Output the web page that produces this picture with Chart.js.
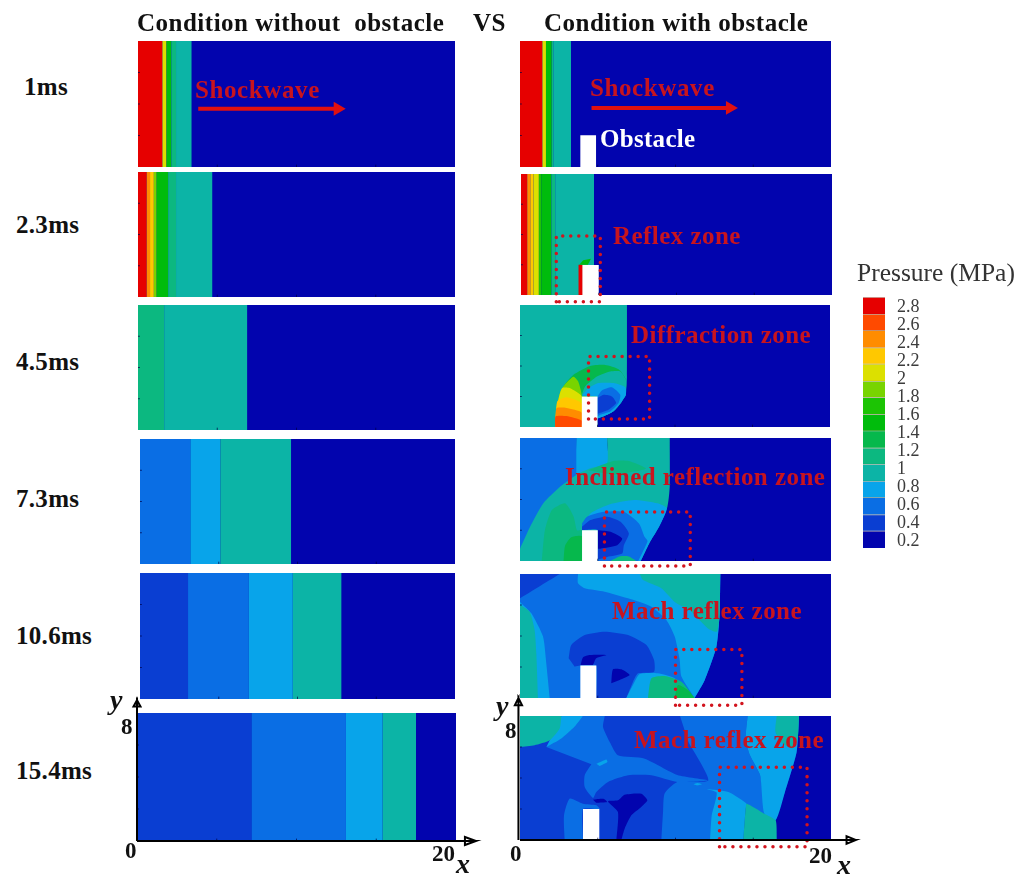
<!DOCTYPE html>
<html>
<head>
<meta charset="utf-8">
<title>Pressure contours</title>
<script src="https://cdn.jsdelivr.net/npm/chart.js@4"></script>
<style>
  html, body { margin: 0; padding: 0; background: #fff; }
  #page { position: relative; width: 1017px; height: 876px; overflow: hidden; }
  canvas { position: absolute; }
  .txt { position: absolute; white-space: pre; font-family: "Liberation Serif", serif; font-weight: bold; transform: translateY(-50%); line-height: 1; }
  .head { font-size: 25px; color: #111; letter-spacing: 0.5px; }
  .time { font-size: 25px; color: #111; letter-spacing: 0.3px; }
  .zone { font-size: 25px; color: #c8141e; letter-spacing: 0.45px; }
  .shock { font-size: 25px; color: #c8141e; letter-spacing: 0.6px; }
  .white { font-size: 25px; color: #fff; letter-spacing: 0.3px; }
  .axis { font-size: 23px; color: #111; }
  .axisname { font-size: 28px; color: #111; font-style: italic; }
  .unit { font-size: 25.5px; color: #333; font-weight: normal; }
</style>
</head>
<body>
<div id="page"></div>
<script>
// pressure levels of the colour scale (MPa), low to high
const levels = [0.2, 0.4, 0.6, 0.8, 1, 1.2, 1.4, 1.6, 1.8, 2, 2.2, 2.4, 2.6, 2.8, 3];
const levelColours = ['#0204ae', '#0a3ed2', '#0a6ee4', '#08a4ea', '#0cb4a6', '#0cb880', '#06b84c', '#00bc0c',
  '#1cc404', '#78d400', '#dce000', '#ffc800', '#ff8c00', '#ff4a00', '#e60000'];

// colour bar
const barEdges = [0.13, 0.32, 0.5, 0.69, 0.87, 1.06, 1.24, 1.43, 1.61, 1.8, 1.98, 2.17, 2.35, 2.54, 2.72, 2.91];
const barTicks = [0.2, 0.4, 0.6, 0.8, 1, 1.2, 1.4, 1.6, 1.8, 2, 2.2, 2.4, 2.6, 2.8];

// without obstacle: band edges along x and the level of each band
const plain1Edges = [1.54, 1.8, 2.1, 2.4, 3.39, 20];
const plain1Levels = [3, 2.2, 1.6, 1.2, 1, 0.2];
const plain2Edges = [0.55, 0.76, 1.0, 1.18, 1.9, 2.4, 4.7, 20];
const plain2Levels = [3, 2.6, 2.4, 2, 1.6, 1.2, 1, 0.2];
const plain3Edges = [1.65, 6.9, 20];
const plain3Levels = [1.2, 1, 0.2];
const plain4Edges = [3.2, 5.1, 9.6, 20];
const plain4Levels = [0.6, 0.8, 1, 0.2];
const plain5Edges = [3.05, 6.9, 9.7, 12.8, 20];
const plain5Levels = [0.4, 0.6, 0.8, 1, 0.2];
const plain6Edges = [7.18, 13.1, 15.4, 17.5, 20];
const plain6Levels = [0.4, 0.6, 0.8, 1, 0.2];

// with obstacle, early times
const obst1Edges = [1.44, 1.67, 2.04, 2.14, 3.28, 20];
const obst1Levels = [3, 2.2, 1.6, 1.2, 1, 0.2];
const obst2Edges = [0.4, 0.6, 0.8, 1.15, 1.3, 1.95, 2.2, 4.7, 20];
const obst2Levels = [3, 2.6, 2.4, 2.2, 1.8, 1.6, 1.2, 1, 0.2];
const obst2Extra = [
  { level: 3, pts: [[3.7, 0], [3.7, 2], [3.98, 2], [3.98, 0]] },
  { level: 1.6, pts: [[3.75, 2], [4.0, 2.3], [4.5, 2.4], [4.3, 2.0]] }
];

// with obstacle, contour outlines as [x, y]; later outlines paint over earlier ones
const contours45 = [
  { level: 1, pts: [[0, 0], [0, 8], [6.9, 8], [6.9, 3.3], [6.83, 2.4], [6.57, 1.68], [6.03, 1.03], [5.38, 0.7], [5, 0.59], [5, 0]] },
  { level: 1.4, pts: [[2.26, 0], [2.37, 1.35], [2.8, 2.66], [3.45, 3.42], [4.53, 4], [5.5, 4.07], [6.36, 3.79], [6.79, 3.2], [6.8, 2.5], [5, 2], [5, 0]] },
  { level: 1, pts: [[3.99, 2.11], [4.2, 2.66], [4.96, 3.31], [5.82, 3.64], [6.47, 3.64], [6.83, 3.09], [6.83, 2.11], [6.57, 1.68], [6.03, 1.03], [5.39, 0.7], [5, 0.59], [5, 2]] },
  { level: 0.8, pts: [[3.99, 2.05], [4.42, 2.55], [5.06, 2.88], [6.03, 2.88], [6.79, 2.61], [6.83, 2.11], [6.57, 1.68], [6.03, 1.03], [5.39, 0.7], [5, 0.59], [5, 2]] },
  { level: 0.6, pts: [[5, 2], [5.28, 2.4], [5.93, 2.61], [6.47, 2.11], [6.36, 1.57], [5.82, 1.02], [5.17, 0.81], [5, 0.7]] },
  { level: 0.4, pts: [[5, 1.9], [5.39, 2.11], [5.93, 2], [6.2, 1.57], [5.71, 1.13], [5.13, 0.91], [5, 0.85]] },
  { level: 2, pts: [[2.3, 0], [2.38, 1.3], [2.6, 2.3], [2.9, 2.8], [3.45, 3.3], [3.75, 3.0], [3.98, 2.1], [3.98, 0]] },
  { level: 2.2, pts: [[2.28, 0], [2.33, 1.0], [2.5, 1.9], [2.72, 2.55], [3.2, 2.55], [3.98, 2.0], [3.98, 0]] },
  { level: 2.4, pts: [[2.27, 0], [2.32, 1.0], [2.42, 1.7], [3.0, 1.95], [3.98, 1.55], [3.98, 0]] },
  { level: 2.6, pts: [[2.27, 0], [2.3, 0.8], [2.36, 1.24], [3.0, 1.25], [3.98, 0.95], [3.98, 0]] },
  { level: 2.8, pts: [[2.27, 0], [2.3, 0.7], [3, 0.72], [3.98, 0.42], [3.98, 0]] }
];

const contours73 = [
  { level: 0.6, pts: [[0, 0], [0, 8], [3.62, 8], [3.62, 5.5], [0, 0.7]] },
  { level: 0.8, pts: [[3.62, 8], [5.6, 8], [5.6, 6.2], [3.62, 5.5]] },
  { level: 1, pts: [[0, 0.8], [0.65, 2.22], [1.5, 3.75], [2.59, 4.84], [3.62, 5.6], [4.53, 6.03], [5.6, 6.36], [5.6, 8], [9.63, 8], [9.63, 4.84], [9.48, 3.53], [8.94, 2.22], [8.3, 1.13], [7.76, 0], [0, 0]] },
  { level: 1.2, pts: [[1.4, 0], [1.6, 2], [2.05, 3.31], [2.9, 3.75], [3.45, 2.88], [3.66, 2], [3.99, 2], [3.99, 0]] },
  { level: 1.4, pts: [[2.8, 0], [2.9, 1], [3.3, 1.55], [3.99, 1.6], [3.99, 0]] },
  { level: 1.2, pts: [[4.4, 5.9], [6, 6.5], [7, 6.5], [8.1, 6], [6, 5.6]] },
  { level: 0.8, pts: [[3.99, 2.22], [4.53, 3.09], [5.82, 3.7], [7.33, 3.97], [8.84, 3.75], [9.44, 3.42], [8.94, 2.22], [8.3, 1.13], [7.76, 0], [5, 0], [5, 2], [3.99, 2]] },
  { level: 0.6, pts: [[3.99, 2.44], [4.31, 2.88], [5.39, 3.2], [6.68, 3.2], [7.65, 2.44], [8, 1.6], [8.2, 1.3], [7.9, 0.6], [7.6, 0], [5, 0], [5, 2], [3.99, 2]] },
  { level: 0.4, pts: [[3.99, 2.22], [4.53, 2.66], [5.6, 2.88], [6.47, 2.55], [7, 1.79], [6.68, 1.02], [6.57, 0.48], [5.6, 0.26], [5, 0.15], [5, 2], [3.99, 2]] },
  { level: 0.2, pts: [[5, 2], [5.82, 1.9], [6.57, 1.46], [6.25, 1.02], [5.17, 0.8], [5, 0.8]] },
  { level: 1.2, pts: [[5.8, 0], [6.4, 0.3], [7, 0.3], [7.5, 0]] }
];

const contours106 = [
  { level: 0.6, pts: [[0, 0], [0, 8], [12.88, 8], [12.84, 5.46], [12.63, 3.31], [11.88, 1.16], [11.23, 0]] },
  { level: 0.8, pts: [[3.73, 8], [3.73, 7.4], [4.16, 7.08], [5.44, 6.86], [6.95, 6.43], [8.45, 5.89], [9.41, 5.03], [9.95, 3.96], [10.27, 2.45], [10.38, 1.38], [11.23, 0], [11.88, 1.16], [12.63, 3.31], [12.84, 5.46], [12.88, 8]] },
  { level: 1, pts: [[7.7, 8], [7.91, 7.61], [9.09, 7.08], [9.95, 6.2], [11.02, 5.57], [12.09, 4.49], [12.67, 4.28], [12.84, 5.46], [12.88, 8]] },
  { level: 0.4, pts: [[0, 8], [2.55, 8], [0, 6.43]] },
  { level: 0.8, pts: [[0, 6.2], [0.73, 5.46], [1.48, 3.96], [1.69, 2.24], [1.91, 0], [0, 0]] },
  { level: 1, pts: [[0, 6], [0.62, 5.57], [0.94, 4.39], [1.05, 2.88], [1.16, 0], [0, 0]] },
  { level: 0.4, pts: [[3.13, 2.56], [3.3, 3.42], [4.16, 4.06], [5.44, 4.28], [6.95, 4.06], [8.13, 3.42], [8.62, 2.45], [8.62, 1.7], [7.59, 1.59], [7.27, 1.05], [6.84, 0], [4.9, 0], [4.9, 2.09], [3.86, 2.09], [3.52, 2.02]] },
  { level: 0.8, pts: [[6.84, 0], [7.37, 1.05], [7.7, 1.55], [8.87, 1.59], [9.95, 1.27], [11.23, 0]] },
  { level: 1.2, pts: [[8.23, 0], [8.45, 1.27], [9.3, 1.42], [10.38, 1.05], [11.23, 0]] },
  { level: 1.4, pts: [[9.95, 0], [10.16, 0.84], [10.8, 0.52], [11.23, 0]] },
  { level: 0.2, pts: [[3.9, 2.13], [4.05, 2.62], [4.5, 2.77], [5.55, 2.77], [4.9, 2.56], [4.7, 2.13]] },
  { level: 0.2, pts: [[5.87, 0.95], [5.98, 1.85], [6.52, 1.85], [7.05, 1.48], [6.41, 1.16]] }
];

const contours154 = [
  { level: 0.4, pts: [[0, 0], [0, 8], [17.94, 8], [17.79, 5.68], [17.04, 3.1], [16.44, 1.27], [16.51, 0]] },
  { level: 0.6, pts: [[1.69, 6], [4.05, 8], [5.45, 8], [5.34, 7.29], [5.77, 6.32], [6.3, 5.46], [8.02, 5.25], [10.12, 4.2], [12.1, 3.85], [10.12, 3.74], [8.45, 4.17], [6.95, 4.17], [5.66, 3.74], [4.91, 3.09], [4.7, 2.71], [4.16, 3.42], [4.16, 4.17], [4.59, 4.88]] },
  { level: 0.6, pts: [[10.29, 8], [14.64, 8], [14.51, 6.54], [14.79, 5.46], [15.44, 4.17], [15.71, 1.7], [14.58, 2.34], [14.51, 2.02], [14.36, 0], [9.09, 0], [9.2, 1.81], [9.3, 3.0], [10.12, 3.74], [12.11, 3.85], [10.83, 6.32]] },
  { level: 0.8, pts: [[2.66, 8], [4.05, 8], [3.5, 7.3], [2.66, 6.55], [1.7, 6]] },
  { level: 1, pts: [[0, 8], [2.66, 8], [2.55, 7.19], [1.91, 6.43], [0.94, 6.11], [0, 6]] },
  { level: 0.8, pts: [[4.91, 4.92], [5.55, 5.2], [5.62, 5.03], [5.12, 4.77]] },
  { level: 0.6, pts: [[2.87, 0], [2.83, 1.59], [3.2, 2.67], [4.05, 2.34], [4.91, 2.24], [5.12, 2], [4.05, 2], [4.05, 0]] },
  { level: 0.2, pts: [[4.7, 2.6], [5.4, 2.65], [5.6, 2.45], [4.9, 2.4]] },
  { level: 0.2, pts: [[6.2, 0], [6.3, 1.81], [5.66, 2.49], [6.3, 2.56], [6.73, 2.92], [7.8, 2.99], [8.19, 2.56], [7.8, 2.13], [7.16, 1.59], [6.73, 0.73], [6.52, 0]] },
  { level: 0.8, pts: [[14.64, 8], [14.51, 6.54], [14.79, 5.46], [15.44, 4.17], [15.71, 1.7], [16.44, 1.27], [17.04, 3.1], [17.79, 5.68], [17.94, 8]] },
  { level: 1, pts: [[16.51, 8], [16.42, 7], [16.8, 6.3], [17.5, 5.9], [17.85, 6.5], [17.94, 8]] },
  { level: 0.8, pts: [[12.22, 0], [12.33, 1.59], [12.65, 3.05], [12, 3.27], [13.4, 3.1], [14.58, 2.34], [14.51, 2.02], [14.36, 0]] },
  { level: 0.8, pts: [[11.15, 3.6], [11.4, 3.68], [11.7, 3.6], [11.4, 3.52]] },
  { level: 1, pts: [[14.36, 0], [14.51, 2.02], [14.58, 2.34], [15.71, 1.7], [16.44, 1.27], [16.51, 0]] }
];

// obstacle rectangles: [x0, x1, top]
const obst1Block = [3.88, 4.89, 2.02];
const obst2Block = [3.95, 5, 1.98];
const obst3Block = [3.99, 5, 2];
const obst4Block = [3.99, 5, 2];
const obst5Block = [3.88, 4.91, 2.09];
const obst6Block = [4.05, 5.1, 2];

// dotted zones: [x0, x1, y0, y1]
const zone2 = [2.27, 5.1, -0.44, 3.9];
const zone3 = [4.42, 8.36, 0.52, 4.62];
const zone4 = [5.43, 10.95, -0.33, 3.18];
const zone5 = [10, 14.27, -0.47, 3.13];
const zone6 = [12.83, 18.46, -0.43, 4.69];

// shockwave arrows: [x0, x1, y]
const arrowPlain = [3.8, 12.6, 3.7];
const arrowObst = [4.6, 13.5, 3.75];

// axis arrows along x and y, each ending in a small head
const leftXAxis = [[0, 0], [21.25, 0], [20.56, 0.25], [20.56, -0.25], [21.25, 0], [20.7, 0]];
const leftYAxis = [[0, 0], [0, 8.8], [-0.22, 8.4], [0.22, 8.4], [0, 8.8], [0, 8.5]];
const rightXAxis = [[0, 0], [21.6, 0], [21, 0.25], [21, -0.25], [21.6, 0], [21.1, 0]];
const rightYAxis = [[-0.1, 0], [-0.1, 9.16], [-0.33, 8.7], [0.13, 8.7], [-0.1, 9.16], [-0.1, 8.8]];

const xTicks = [5, 10, 15];
const yTicks = [2, 4, 6];

const PAD = 40;
const colourOf = v => levelColours[levels.indexOf(v)];

function poly(pts, level, smooth) {
  let out = pts;
  if (smooth) {
    // doubling the points on the panel edge keeps those corners sharp under the spline
    out = [];
    pts.forEach(p => {
      out.push(p);
      if (p[0] === 0 || p[1] === 0 || p[1] === 8 || p[0] === 20) out.push(p);
    });
  }
  return {
    data: out.map(p => ({ x: p[0], y: p[1] })),
    showLine: true,
    fill: 'shape',
    backgroundColor: level === null ? '#fff' : colourOf(level),
    borderWidth: 0,
    pointRadius: 0,
    tension: smooth ? 0.2 : 0
  };
}

function bands(edges, lvls) {
  const out = [poly([[0, 0], [0, 8], [20, 8], [20, 0]], 0.2, false)];
  let from = 0;
  edges.forEach((e, i) => {
    out.push(poly([[from, 0], [from, 8], [e, 8], [e, 0]], lvls[i], false));
    from = e;
  });
  return out;
}

function contourSets(list) {
  return bands([20], [0.2]).concat(list.map(c => poly(c.pts, c.level, true)));
}

function block(b) {
  return poly([[b[0], 0], [b[0], b[2]], [b[1], b[2]], [b[1], 0]], null, false);
}

function tickMarks() {
  const ticks = [];
  xTicks.forEach(v => ticks.push({ x: v, y: 0 }, { x: v, y: 0.15 }, { x: v, y: NaN }));
  yTicks.forEach(v => ticks.push({ x: 0, y: v }, { x: 0.12, y: v }, { x: NaN, y: v }));
  return { data: ticks, showLine: true, borderColor: 'rgba(0,0,70,.7)', borderWidth: 1, pointRadius: 0 };
}

function dottedZone(z) {
  return {
    data: [{ x: z[0], y: z[2] }, { x: z[0], y: z[3] }, { x: z[1], y: z[3] }, { x: z[1], y: z[2] }, { x: z[0], y: z[2] }],
    showLine: true, clip: false, borderColor: '#d2141e', borderWidth: 3.5,
    borderDash: [0.01, 8], borderCapStyle: 'round', pointRadius: 0
  };
}

function arrow(a) {
  return {
    data: [{ x: a[0], y: a[2] }, { x: a[1], y: a[2] }],
    showLine: true, clip: false, borderColor: '#e01010', borderWidth: 4,
    pointRadius: [0, 8], pointStyle: 'triangle', pointRotation: 90,
    pointBackgroundColor: '#e01010', pointBorderWidth: 0
  };
}

function axisLine(pts) {
  return {
    data: pts.map(p => ({ x: p[0], y: p[1] })),
    showLine: true, clip: false, borderColor: '#000', borderWidth: 2, pointRadius: 0
  };
}

// [left, top, width, height] of each panel on the page, then what it paints
const panels = [
  { box: [138, 41, 317, 126], sets: bands(plain1Edges, plain1Levels).concat(tickMarks(), arrow(arrowPlain)) },
  { box: [138, 172, 317, 125], sets: bands(plain2Edges, plain2Levels).concat(tickMarks()) },
  { box: [138, 305, 317, 125], sets: bands(plain3Edges, plain3Levels).concat(tickMarks()) },
  { box: [140, 439, 315, 125], sets: bands(plain4Edges, plain4Levels).concat(tickMarks()) },
  { box: [140, 573, 315, 126], sets: bands(plain5Edges, plain5Levels).concat(tickMarks()) },
  { box: [137, 713, 319, 128], sets: bands(plain6Edges, plain6Levels).concat(tickMarks(), axisLine(leftXAxis), axisLine(leftYAxis)) },
  { box: [520, 41, 311, 126], sets: bands(obst1Edges, obst1Levels).concat(block(obst1Block), tickMarks(), arrow(arrowObst)) },
  { box: [521, 174, 311, 121], sets: bands(obst2Edges, obst2Levels).concat(obst2Extra.map(c => poly(c.pts, c.level, false)), block(obst2Block), tickMarks(), dottedZone(zone2)) },
  { box: [520, 305, 310, 122], sets: contourSets(contours45).concat(block(obst3Block), tickMarks(), dottedZone(zone3)) },
  { box: [520, 438, 311, 123], sets: contourSets(contours73).concat(block(obst4Block), tickMarks(), dottedZone(zone4)) },
  { box: [520, 574, 311, 124], sets: contourSets(contours106).concat(block(obst5Block), tickMarks(), dottedZone(zone5)) },
  { box: [520, 716, 311, 124], sets: contourSets(contours154).concat(block(obst6Block), tickMarks(), dottedZone(zone6), axisLine(rightXAxis), axisLine(rightYAxis)) }
];

const page = document.getElementById('page');

function addCanvas(left, top, w, h) {
  const c = document.createElement('canvas');
  c.width = w; c.height = h;
  c.style.left = left + 'px';
  c.style.top = top + 'px';
  c.style.width = w + 'px';
  c.style.height = h + 'px';
  page.appendChild(c);
  return c.getContext('2d');
}

panels.forEach(p => {
  const [l, t, w, h] = p.box;
  const ctx = addCanvas(l - PAD, t - PAD, w + PAD * 2, h + PAD * 2);
  const total = p.sets.length;
  p.sets.forEach((s, i) => { s.order = total - i; });
  new Chart(ctx, {
    type: 'scatter',
    data: { datasets: p.sets },
    options: {
      responsive: false,
      animation: false,
      layout: { padding: PAD },
      plugins: { legend: { display: false }, tooltip: { enabled: false } },
      events: [],
      scales: {
        x: { type: 'linear', min: 0, max: 20, display: false },
        y: { type: 'linear', min: 0, max: 8, display: false }
      }
    }
  });
});

// colour bar, one floating bar per level
const barCtx = addCanvas(863, 285, 70, 275);
new Chart(barCtx, {
  type: 'bar',
  data: {
    labels: [''],
    datasets: levels.map((v, i) => ({
      data: [[barEdges[i], barEdges[i + 1]]],
      backgroundColor: levelColours[i],
      borderColor: 'rgba(60,40,0,.3)',
      borderWidth: { top: 1 },
      borderSkipped: false,
      grouped: false,
      categoryPercentage: 1,
      barPercentage: 1
    }))
  },
  options: {
    responsive: false,
    animation: false,
    layout: { padding: { top: 12, bottom: 12 } },
    plugins: { legend: { display: false }, tooltip: { enabled: false } },
    scales: {
      x: { display: false },
      y: {
        position: 'right',
        min: barEdges[0],
        max: barEdges[barEdges.length - 1],
        afterBuildTicks: axis => { axis.ticks = barTicks.map(v => ({ value: v })); },
        afterFit: axis => { axis.width = 48; axis.paddingTop = 0; axis.paddingBottom = 0; },
        border: { display: false },
        grid: { display: false },
        ticks: {
          autoSkip: false,
          padding: 4,
          color: '#3c3c3c',
          font: { family: '"Liberation Serif"', size: 18 },
          callback: v => String(v)
        }
      }
    }
  }
});

// [text, left, vertical centre, style]
const labels = [
  ['Condition without  obstacle', 137, 22, 'head'],
  ['VS', 473, 22, 'head'],
  ['Condition with obstacle', 544, 22, 'head'],
  ['1ms', 24, 86, 'time'],
  ['2.3ms', 16, 224, 'time'],
  ['4.5ms', 16, 361, 'time'],
  ['7.3ms', 16, 498, 'time'],
  ['10.6ms', 16, 635, 'time'],
  ['15.4ms', 16, 770, 'time'],
  ['Pressure (MPa)', 857, 273, 'unit'],
  ['Shockwave', 195, 89, 'shock'],
  ['Shockwave', 590, 87, 'shock'],
  ['Obstacle', 600, 138, 'white'],
  ['Reflex zone', 613, 235, 'zone'],
  ['Diffraction zone', 631, 334, 'zone'],
  ['Inclined reflection zone', 565, 476, 'zone'],
  ['Mach reflex zone', 612, 610, 'zone'],
  ['Mach reflex zone', 634, 739, 'zone'],
  ['y', 110, 700, 'axisname'],
  ['8', 121, 726, 'axis'],
  ['0', 125, 850, 'axis'],
  ['20', 432, 853, 'axis'],
  ['x', 456, 864, 'axisname'],
  ['y', 496, 706, 'axisname'],
  ['8', 505, 730, 'axis'],
  ['0', 510, 853, 'axis'],
  ['20', 809, 855, 'axis'],
  ['x', 837, 865, 'axisname']
];

labels.forEach(([text, x, y, cls]) => {
  const d = document.createElement('div');
  d.className = 'txt ' + cls;
  d.textContent = text;
  d.style.left = x + 'px';
  d.style.top = y + 'px';
  page.appendChild(d);
});
</script>
</body>
</html>
